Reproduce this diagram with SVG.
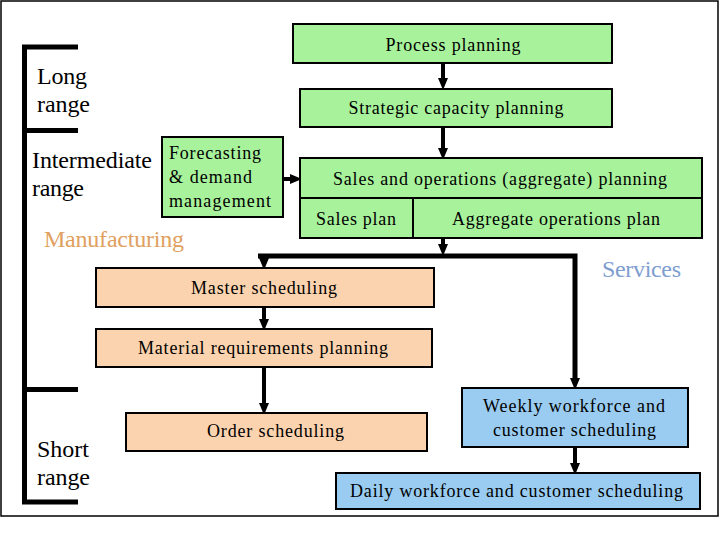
<svg xmlns="http://www.w3.org/2000/svg" width="720" height="540" viewBox="0 0 720 540">
<defs>
<marker id="ah" viewBox="0 0 12 10" refX="0" refY="5" markerWidth="12" markerHeight="10" markerUnits="userSpaceOnUse" orient="auto">
<path d="M0,0 L12,5 L0,10 z" fill="#000"/>
</marker>
<style>
.box{stroke:#000;stroke-width:2}
.g{fill:#A8F29C}
.p{fill:#FBD3AE}
.b{fill:#99CCF0}
.t{font-size:18px;fill:#000}
.c{text-anchor:middle}
.lbl{font-size:24px;fill:#000}
.con{fill:none;stroke:#000;stroke-width:4}
.thick{fill:none;stroke:#000;stroke-width:5}
</style>
</defs>
<rect width="720" height="540" fill="#fff"/>
<rect x="1" y="1" width="717" height="515" fill="none" stroke="#000" stroke-width="1.5"/>

<g id="bracket">
<path class="thick" d="M78,47 H24.5 V502 H78 M24.5,130.5 H78 M24.5,389.5 H78" stroke-width="5.5"/>
</g>
<g id="labels" font-family="'Liberation Serif', 'Times New Roman', serif" lengthAdjust="spacing">
<text class="lbl" x="37" y="84" textLength="50">Long</text>
<text class="lbl" x="37" y="112" textLength="53">range</text>
<text class="lbl" x="32" y="168" textLength="120">Intermediate</text>
<text class="lbl" x="32" y="196" textLength="52">range</text>
<text class="lbl" x="44" y="247" textLength="140" style="fill:#E0A060">Manufacturing</text>
<text class="lbl" x="602" y="277" textLength="79" style="fill:#7E9DD0">Services</text>
<text class="lbl" x="37" y="457" textLength="52">Short</text>
<text class="lbl" x="37" y="485" textLength="53">range</text>
</g>

<g id="connectors">
<line class="con" x1="443" y1="63" x2="443" y2="78" marker-end="url(#ah)"/>
<line class="con" x1="443" y1="127" x2="443" y2="148" marker-end="url(#ah)"/>
<line class="con" x1="443" y1="238" x2="443" y2="244" marker-end="url(#ah)"/>
<line class="con" x1="283" y1="179" x2="290" y2="179" marker-end="url(#ah)"/>
<path class="thick" d="M258,256 H575 V378" marker-end="url(#ah)"/>
<line class="con" x1="264" y1="256" x2="264" y2="258" marker-end="url(#ah)"/>
<line class="con" x1="264" y1="307" x2="264" y2="319" marker-end="url(#ah)"/>
<line class="con" x1="264" y1="367" x2="264" y2="403" marker-end="url(#ah)"/>
<line class="con" x1="575" y1="447" x2="575" y2="463" marker-end="url(#ah)"/>
</g>

<g font-family="'Liberation Serif', 'Times New Roman', serif">
<g id="process-planning">
<rect class="box g" x="293" y="24" width="319" height="39"/>
<text class="t c" x="453" y="51" textLength="135">Process planning</text>
</g>
<g id="strategic-capacity">
<rect class="box g" x="300" y="89" width="312" height="38"/>
<text class="t c" x="456" y="114" textLength="215">Strategic capacity planning</text>
</g>
<g id="forecasting">
<rect class="box g" x="162" y="137" width="121" height="80"/>
<text class="t" x="169" y="159" textLength="92">Forecasting</text>
<text class="t" x="169" y="183" textLength="83">&amp; demand</text>
<text class="t" x="169" y="207" textLength="102">management</text>
</g>
<g id="sop">
<rect class="box g" x="300" y="158" width="402" height="80"/>
<line x1="300" y1="198" x2="702" y2="198" stroke="#000" stroke-width="2"/>
<line x1="413" y1="198" x2="413" y2="238" stroke="#000" stroke-width="2"/>
<text class="t c" x="500" y="185" textLength="334">Sales and operations (aggregate) planning</text>
<text class="t c" x="356" y="225" textLength="80">Sales plan</text>
<text class="t c" x="556" y="225" textLength="208">Aggregate operations plan</text>
</g>
<g id="master-scheduling">
<rect class="box p" x="96" y="268" width="338" height="39"/>
<text class="t c" x="264" y="294" textLength="146">Master scheduling</text>
</g>
<g id="mrp">
<rect class="box p" x="96" y="329" width="336" height="38"/>
<text class="t c" x="263" y="354" textLength="250">Material requirements planning</text>
</g>
<g id="order-scheduling">
<rect class="box p" x="126" y="413" width="301" height="38"/>
<text class="t c" x="275.5" y="437" textLength="137">Order scheduling</text>
</g>
<g id="weekly">
<rect class="box b" x="462" y="388" width="226" height="59"/>
<text class="t c" x="574" y="412" textLength="182">Weekly workforce and</text>
<text class="t c" x="574.5" y="436" textLength="163">customer scheduling</text>
</g>
<g id="daily">
<rect class="box b" x="336" y="473" width="364" height="36"/>
<text class="t c" x="516.5" y="497" textLength="333">Daily workforce and customer scheduling</text>
</g>
</g>
</svg>
